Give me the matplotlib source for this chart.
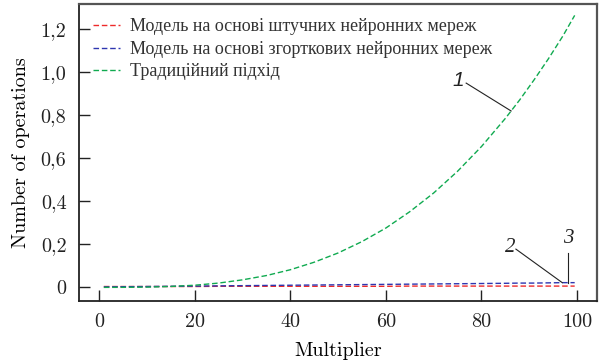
import numpy as np
import matplotlib
matplotlib.use('Agg')
import matplotlib.pyplot as plt
from matplotlib.ticker import FixedLocator

# multiplier values (x) and number of operations
multiplier = [1, 5, 10, 15, 20, 25, 30, 35, 40, 45, 50,
              55, 60, 65, 70, 75, 80, 85, 88, 91, 94, 97, 99.5]
ann_ops = [0.004, 0.004, 0.004, 0.004, 0.004, 0.005, 0.005, 0.005, 0.005, 0.005, 0.005,
           0.005, 0.005, 0.006, 0.006, 0.006, 0.006, 0.006, 0.006, 0.006, 0.006, 0.006, 0.006]
cnn_ops = [0.002, 0.003, 0.004, 0.005, 0.006, 0.007, 0.008, 0.009, 0.010, 0.011, 0.012,
           0.013, 0.014, 0.015, 0.016, 0.017, 0.018, 0.019, 0.020, 0.020, 0.021, 0.022, 0.022]
trad_ops = [0.0, 0.0002, 0.0013, 0.0043, 0.010, 0.020, 0.035, 0.055, 0.082, 0.117, 0.160,
            0.213, 0.276, 0.352, 0.439, 0.540, 0.655, 0.786, 0.872, 0.965, 1.063, 1.168, 1.265]

series_names = ['Модель на основі штучних нейронних мереж',
                'Модель на основі згорткових нейронних мереж',
                'Традиційний підхід']
series_colors = ['#ee2a2a', '#2e36b0', '#10aa50']

y_ticks = [0, 0.2, 0.4, 0.6, 0.8, 1.0, 1.2]
y_tick_labels = ['0', '0,2', '0,4', '0,6', '0,8', '1,0', '1,2']
x_ticks = [0, 20, 40, 60, 80, 100]

label_font = 'cmr10'

fig = plt.figure(figsize=(6.01, 3.62), dpi=100)
ax = fig.add_axes([0.1314, 0.1693, 0.8614, 0.8197])

for ys, name, col in zip([ann_ops, cnn_ops, trad_ops], series_names, series_colors):
    ax.plot(multiplier, ys, color=col, lw=1.0, dashes=(4, 2), label=name)

ax.set_xlim(-4.2, 104.1)
ax.set_ylim(-0.062, 1.318)

ax.xaxis.set_major_locator(FixedLocator(x_ticks))
ax.set_xticklabels([str(v) for v in x_ticks], fontfamily=label_font, fontsize=14.5)
ax.yaxis.set_major_locator(FixedLocator(y_ticks))
ax.set_yticklabels(y_tick_labels, fontfamily=label_font, fontsize=14.5)
ax.tick_params(direction='in', length=8, width=1.0, colors='#222222',
               top=False, right=False, pad=9)

ax.set_xlabel('Multiplier', fontfamily=label_font, fontsize=14.5, labelpad=8)
ax.set_ylabel('Number of operations', fontfamily=label_font, fontsize=14.5, labelpad=8)

for side in ['left', 'bottom']:
    ax.spines[side].set_linewidth(1.3)
    ax.spines[side].set_color('#222222')
for side in ['top', 'right']:
    ax.spines[side].set_linewidth(1.6)
    ax.spines[side].set_color('#555555')

leg = ax.legend(loc='upper left', frameon=False, handlelength=1.5, handletextpad=0.55,
                labelspacing=0.3, borderaxespad=0.4,
                prop={'family': 'Liberation Serif', 'size': 13})
for t in leg.get_texts():
    t.set_color('#333333')

# curve labels
x1 = 86.2
y1 = np.interp(x1, multiplier, trad_ops)
ax.plot([76.8, x1], [0.950, y1], color='#222222', lw=0.8)
ax.text(75.1, 0.964, '1', fontsize=15, style='italic', family='Liberation Sans',
        ha='center', va='center', color='#222222')

y2 = np.interp(96.9, multiplier, cnn_ops)
ax.plot([87.2, 96.9], [0.178, y2], color='#222222', lw=0.8)
ax.text(86.0, 0.187, '2', fontsize=15, style='italic', family='Liberation Serif',
        ha='center', va='center', color='#222222')

y3 = np.interp(98.1, multiplier, cnn_ops)
ax.plot([98.1, 98.1], [0.16, y3], color='#222222', lw=0.8)
ax.text(98.1, 0.229, '3', fontsize=15, style='italic', family='Liberation Serif',
        ha='center', va='center', color='#222222')

fig.savefig('out.png', dpi=100)
